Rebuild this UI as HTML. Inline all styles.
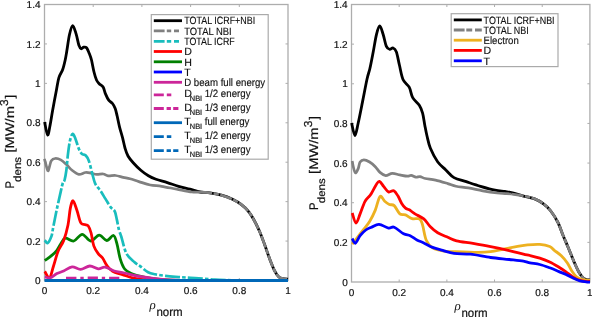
<!DOCTYPE html>
<html><head><meta charset="utf-8"><style>
html,body{margin:0;padding:0;background:#fff;}
svg{display:block;filter:blur(0.3px);}
text{text-rendering:geometricPrecision;font-family:"Liberation Sans",sans-serif;fill:#111;stroke:#111;stroke-width:0.2px;}
</style></head><body>
<svg width="592" height="317" viewBox="0 0 592 317">
<rect x="0" y="0" width="592" height="317" fill="#fff"/>
<rect x="44.50" y="4.50" width="243.50" height="276.00" fill="none" stroke="#ADADAD" stroke-width="1.3"/>
<path d="M93.20 280.50 V278.00 M93.20 4.50 V7.00" stroke="#ADADAD" stroke-width="1"/>
<path d="M141.90 280.50 V278.00 M141.90 4.50 V7.00" stroke="#ADADAD" stroke-width="1"/>
<path d="M190.60 280.50 V278.00 M190.60 4.50 V7.00" stroke="#ADADAD" stroke-width="1"/>
<path d="M239.30 280.50 V278.00 M239.30 4.50 V7.00" stroke="#ADADAD" stroke-width="1"/>
<path d="M44.50 241.07 H47.00 M288.00 241.07 H285.50" stroke="#ADADAD" stroke-width="1"/>
<path d="M44.50 201.64 H47.00 M288.00 201.64 H285.50" stroke="#ADADAD" stroke-width="1"/>
<path d="M44.50 162.21 H47.00 M288.00 162.21 H285.50" stroke="#ADADAD" stroke-width="1"/>
<path d="M44.50 122.79 H47.00 M288.00 122.79 H285.50" stroke="#ADADAD" stroke-width="1"/>
<path d="M44.50 83.36 H47.00 M288.00 83.36 H285.50" stroke="#ADADAD" stroke-width="1"/>
<path d="M44.50 43.93 H47.00 M288.00 43.93 H285.50" stroke="#ADADAD" stroke-width="1"/>
<rect x="351.50" y="4.50" width="238.40" height="277.50" fill="none" stroke="#ADADAD" stroke-width="1.3"/>
<path d="M399.18 282.00 V279.50 M399.18 4.50 V7.00" stroke="#ADADAD" stroke-width="1"/>
<path d="M446.86 282.00 V279.50 M446.86 4.50 V7.00" stroke="#ADADAD" stroke-width="1"/>
<path d="M494.54 282.00 V279.50 M494.54 4.50 V7.00" stroke="#ADADAD" stroke-width="1"/>
<path d="M542.22 282.00 V279.50 M542.22 4.50 V7.00" stroke="#ADADAD" stroke-width="1"/>
<path d="M351.50 242.36 H354.00 M589.90 242.36 H587.40" stroke="#ADADAD" stroke-width="1"/>
<path d="M351.50 202.71 H354.00 M589.90 202.71 H587.40" stroke="#ADADAD" stroke-width="1"/>
<path d="M351.50 163.07 H354.00 M589.90 163.07 H587.40" stroke="#ADADAD" stroke-width="1"/>
<path d="M351.50 123.43 H354.00 M589.90 123.43 H587.40" stroke="#ADADAD" stroke-width="1"/>
<path d="M351.50 83.79 H354.00 M589.90 83.79 H587.40" stroke="#ADADAD" stroke-width="1"/>
<path d="M351.50 44.14 H354.00 M589.90 44.14 H587.40" stroke="#ADADAD" stroke-width="1"/>
<text x="40.50" y="284.10" font-size="10" text-anchor="end">0</text>
<text x="40.50" y="244.67" font-size="10" text-anchor="end">0.2</text>
<text x="40.50" y="205.24" font-size="10" text-anchor="end">0.4</text>
<text x="40.50" y="165.81" font-size="10" text-anchor="end">0.6</text>
<text x="40.50" y="126.39" font-size="10" text-anchor="end">0.8</text>
<text x="40.50" y="86.96" font-size="10" text-anchor="end">1</text>
<text x="40.50" y="47.53" font-size="10" text-anchor="end">1.2</text>
<text x="40.50" y="8.10" font-size="10" text-anchor="end">1.4</text>
<text x="44.50" y="294.00" font-size="10" text-anchor="middle">0</text>
<text x="93.20" y="294.00" font-size="10" text-anchor="middle">0.2</text>
<text x="141.90" y="294.00" font-size="10" text-anchor="middle">0.4</text>
<text x="190.60" y="294.00" font-size="10" text-anchor="middle">0.6</text>
<text x="239.30" y="294.00" font-size="10" text-anchor="middle">0.8</text>
<text x="288.00" y="294.00" font-size="10" text-anchor="middle">1</text>
<text x="347.70" y="285.60" font-size="10" text-anchor="end">0</text>
<text x="347.70" y="245.96" font-size="10" text-anchor="end">0.2</text>
<text x="347.70" y="206.31" font-size="10" text-anchor="end">0.4</text>
<text x="347.70" y="166.67" font-size="10" text-anchor="end">0.6</text>
<text x="347.70" y="127.03" font-size="10" text-anchor="end">0.8</text>
<text x="347.70" y="87.39" font-size="10" text-anchor="end">1</text>
<text x="347.70" y="47.74" font-size="10" text-anchor="end">1.2</text>
<text x="347.70" y="8.10" font-size="10" text-anchor="end">1.4</text>
<text x="351.50" y="295.60" font-size="10" text-anchor="middle">0</text>
<text x="399.18" y="295.60" font-size="10" text-anchor="middle">0.2</text>
<text x="446.86" y="295.60" font-size="10" text-anchor="middle">0.4</text>
<text x="494.54" y="295.60" font-size="10" text-anchor="middle">0.6</text>
<text x="542.22" y="295.60" font-size="10" text-anchor="middle">0.8</text>
<text x="589.90" y="295.60" font-size="10" text-anchor="middle">1</text>
<text transform="translate(14.20 188.60) rotate(-90)" font-size="12.5" textLength="7.60" lengthAdjust="spacingAndGlyphs">P</text>
<text transform="translate(20.80 181.90) rotate(-90)" font-size="10.5" textLength="25.00" lengthAdjust="spacingAndGlyphs">dens</text>
<text transform="translate(14.20 152.60) rotate(-90)" font-size="12.5" textLength="46.50" lengthAdjust="spacingAndGlyphs">[MW/m</text>
<text transform="translate(7.90 106.00) rotate(-90)" font-size="11.5" textLength="6.60" lengthAdjust="spacingAndGlyphs">3</text>
<text transform="translate(13.60 98.50) rotate(-90)" font-size="12.5" textLength="3.60" lengthAdjust="spacingAndGlyphs">]</text>
<text transform="translate(318.20 209.90) rotate(-90)" font-size="12.5" textLength="7.60" lengthAdjust="spacingAndGlyphs">P</text>
<text transform="translate(324.80 203.20) rotate(-90)" font-size="10.5" textLength="25.00" lengthAdjust="spacingAndGlyphs">dens</text>
<text transform="translate(318.20 173.90) rotate(-90)" font-size="12.5" textLength="46.50" lengthAdjust="spacingAndGlyphs">[MW/m</text>
<text transform="translate(311.90 127.30) rotate(-90)" font-size="11.5" textLength="6.60" lengthAdjust="spacingAndGlyphs">3</text>
<text transform="translate(317.60 119.80) rotate(-90)" font-size="12.5" textLength="3.60" lengthAdjust="spacingAndGlyphs">]</text>
<text x="149.40" y="308.50" style="font-family:'Liberation Serif',serif;font-style:italic;stroke:none" font-size="13">&#961;</text>
<text x="156.40" y="315.80" font-size="12" textLength="26.2" lengthAdjust="spacingAndGlyphs">norm</text>
<text x="454.40" y="310.00" style="font-family:'Liberation Serif',serif;font-style:italic;stroke:none" font-size="13">&#961;</text>
<text x="461.40" y="317.30" font-size="12" textLength="26.2" lengthAdjust="spacingAndGlyphs">norm</text>
<path d="M66.00 278.00 C70.33 277.97 83.12 277.80 92.00 277.80 C100.88 277.80 114.75 277.97 119.30 278.00" fill="none" stroke="#CC2699" stroke-width="2.4" stroke-linejoin="round" stroke-linecap="butt" stroke-dasharray="10.5 3.8 3.3 3.9"/>
<path d="M44.60 122.00 C45.10 124.17 46.68 134.48 47.60 135.00 C48.52 135.52 49.27 129.20 50.10 125.10 C50.93 121.00 51.55 116.22 52.60 110.40 C53.65 104.58 55.35 95.67 56.40 90.20 C57.45 84.73 57.85 81.05 58.90 77.60 C59.95 74.15 61.65 72.43 62.70 69.50 C63.75 66.57 64.52 63.08 65.20 60.00 C65.88 56.92 66.08 55.25 66.80 51.00 C67.52 46.75 68.52 38.73 69.50 34.50 C70.48 30.27 71.60 25.70 72.70 25.60 C73.80 25.50 75.07 30.62 76.10 33.90 C77.13 37.18 78.05 42.83 78.90 45.30 C79.75 47.77 80.40 48.38 81.20 48.70 C82.00 49.02 82.82 47.35 83.70 47.20 C84.58 47.05 85.57 46.75 86.50 47.80 C87.43 48.85 88.47 51.47 89.30 53.50 C90.13 55.53 90.72 56.92 91.50 60.00 C92.28 63.08 93.17 68.67 94.00 72.00 C94.83 75.33 95.63 78.05 96.50 80.00 C97.37 81.95 98.10 82.53 99.20 83.70 C100.30 84.87 102.05 85.30 103.10 87.00 C104.15 88.70 104.57 91.70 105.50 93.90 C106.43 96.10 107.53 98.60 108.70 100.20 C109.87 101.80 111.42 102.12 112.50 103.50 C113.58 104.88 114.43 106.45 115.20 108.50 C115.97 110.55 116.38 112.75 117.10 115.80 C117.82 118.85 118.58 123.12 119.50 126.80 C120.42 130.48 121.68 134.37 122.60 137.90 C123.52 141.43 124.10 144.98 125.00 148.00 C125.90 151.02 126.63 153.55 128.00 156.00 C129.37 158.45 131.07 160.32 133.20 162.70 C135.33 165.08 138.27 168.12 140.80 170.30 C143.33 172.48 145.87 174.30 148.40 175.80 C150.93 177.30 152.85 178.17 156.00 179.30 C159.15 180.43 163.53 181.43 167.30 182.60 C171.07 183.77 174.82 185.20 178.60 186.30 C182.38 187.40 186.43 188.25 190.00 189.20 C193.57 190.15 196.97 191.43 200.00 192.00 C203.03 192.57 204.62 192.07 208.20 192.60 C211.78 193.13 217.45 194.08 221.50 195.20 C225.55 196.32 229.18 197.73 232.50 199.30 C235.82 200.87 238.82 202.68 241.40 204.60 C243.98 206.52 246.02 208.43 248.00 210.80 C249.98 213.17 251.38 215.40 253.30 218.80 C255.22 222.20 257.62 226.90 259.50 231.20 C261.38 235.50 262.90 239.98 264.60 244.60 C266.30 249.22 268.00 254.47 269.70 258.90 C271.40 263.33 273.27 268.18 274.80 271.20 C276.33 274.22 277.53 275.77 278.90 277.00 C280.27 278.23 281.48 278.23 283.00 278.60 C284.52 278.97 287.17 279.10 288.00 279.20" fill="none" stroke="#000000" stroke-width="2.8" stroke-linejoin="round" stroke-linecap="butt"/>
<path d="M44.40 158.90 C44.62 159.68 45.12 161.62 45.70 163.60 C46.28 165.58 47.27 170.32 47.90 170.80 C48.53 171.28 48.93 168.17 49.50 166.50 C50.07 164.83 50.37 162.13 51.30 160.80 C52.23 159.47 53.52 158.65 55.10 158.50 C56.68 158.35 58.90 158.88 60.80 159.90 C62.70 160.92 64.62 162.87 66.50 164.60 C68.38 166.33 70.05 168.67 72.10 170.30 C74.15 171.93 76.58 174.03 78.80 174.40 C81.02 174.77 83.37 172.72 85.40 172.50 C87.43 172.28 89.12 172.78 91.00 173.10 C92.88 173.42 94.65 174.25 96.70 174.40 C98.75 174.55 101.40 173.75 103.30 174.00 C105.20 174.25 106.05 175.65 108.10 175.90 C110.15 176.15 113.08 175.25 115.60 175.50 C118.12 175.75 120.80 176.85 123.20 177.40 C125.60 177.95 127.38 178.10 130.00 178.80 C132.62 179.50 135.52 180.57 138.90 181.60 C142.28 182.63 146.52 184.22 150.30 185.00 C154.08 185.78 157.20 185.60 161.60 186.30 C166.00 187.00 171.65 188.25 176.70 189.20 C181.75 190.15 188.02 191.53 191.90 192.00 C195.78 192.47 198.65 192.00 200.00 192.00" fill="none" stroke="#808080" stroke-width="2.7" stroke-linejoin="round" stroke-linecap="butt"/>
<path d="M200.00 192.00 C201.37 192.10 204.62 192.07 208.20 192.60 C211.78 193.13 217.45 194.08 221.50 195.20 C225.55 196.32 229.18 197.73 232.50 199.30 C235.82 200.87 238.82 202.68 241.40 204.60 C243.98 206.52 246.02 208.43 248.00 210.80 C249.98 213.17 251.38 215.40 253.30 218.80 C255.22 222.20 257.62 226.90 259.50 231.20 C261.38 235.50 262.90 239.98 264.60 244.60 C266.30 249.22 268.00 254.47 269.70 258.90 C271.40 263.33 273.27 268.18 274.80 271.20 C276.33 274.22 277.53 275.77 278.90 277.00 C280.27 278.23 281.48 278.23 283.00 278.60 C284.52 278.97 287.17 279.10 288.00 279.20" fill="none" stroke="#808080" stroke-width="2.7" stroke-linejoin="round" stroke-linecap="butt" stroke-dasharray="12.3 1.5 5.1 1.5"/>
<path d="M44.70 240.20 C45.18 240.67 46.48 243.63 47.60 243.00 C48.72 242.37 50.47 239.02 51.40 236.40 C52.33 233.78 52.27 231.97 53.20 227.30 C54.13 222.63 55.73 214.38 57.00 208.40 C58.27 202.42 59.85 195.55 60.80 191.40 C61.75 187.25 62.07 185.40 62.70 183.50 C63.33 181.60 63.98 182.25 64.60 180.00 C65.22 177.75 65.85 174.22 66.40 170.00 C66.95 165.78 67.30 159.62 67.90 154.70 C68.50 149.78 69.20 143.97 70.00 140.50 C70.80 137.03 71.78 134.17 72.70 133.90 C73.62 133.63 74.50 136.48 75.50 138.90 C76.50 141.32 77.65 145.90 78.70 148.40 C79.75 150.90 80.62 152.72 81.80 153.90 C82.98 155.08 84.62 154.32 85.80 155.50 C86.98 156.68 87.83 158.03 88.90 161.00 C89.97 163.97 91.15 169.53 92.20 173.30 C93.25 177.07 93.83 180.70 95.20 183.60 C96.57 186.50 98.68 188.15 100.40 190.70 C102.12 193.25 103.80 196.17 105.50 198.90 C107.20 201.63 109.07 205.05 110.60 207.10 C112.13 209.15 113.67 209.15 114.70 211.20 C115.73 213.25 116.08 216.27 116.80 219.40 C117.52 222.53 118.23 227.07 119.00 230.00 C119.77 232.93 120.15 233.05 121.40 237.00 C122.65 240.95 124.30 249.50 126.50 253.70 C128.70 257.90 132.35 260.13 134.60 262.20 C136.85 264.27 137.75 264.43 140.00 266.10 C142.25 267.77 145.57 270.83 148.10 272.20 C150.63 273.57 152.33 273.70 155.20 274.30 C158.07 274.90 161.92 275.38 165.30 275.80 C168.68 276.22 172.12 276.52 175.50 276.80 C178.88 277.08 181.72 277.25 185.60 277.50 C189.48 277.75 193.90 277.95 198.80 278.30 C203.70 278.65 208.97 279.23 215.00 279.60 C221.03 279.97 231.67 280.35 235.00 280.50" fill="none" stroke="#19BDBD" stroke-width="2.7" stroke-linejoin="round" stroke-linecap="butt" stroke-dasharray="15 2.2 3.5 2.2" stroke-dashoffset="0"/>
<path d="M44.80 260.50 C45.97 259.65 49.78 257.10 51.80 255.40 C53.82 253.70 55.40 252.22 56.90 250.30 C58.40 248.38 59.40 245.92 60.80 243.90 C62.20 241.88 63.13 238.68 65.30 238.20 C67.47 237.72 70.98 241.65 73.80 241.00 C76.62 240.35 79.38 234.30 82.20 234.30 C85.02 234.30 87.88 240.87 90.70 241.00 C93.52 241.13 96.43 235.18 99.10 235.10 C101.77 235.02 104.30 240.43 106.70 240.50 C109.10 240.57 111.80 234.98 113.50 235.50 C115.20 236.02 115.77 239.67 116.90 243.60 C118.03 247.53 119.00 254.87 120.30 259.10 C121.60 263.33 122.87 266.60 124.70 269.00 C126.53 271.40 127.92 272.12 131.30 273.50 C134.68 274.88 140.22 276.33 145.00 277.30 C149.78 278.27 154.17 278.77 160.00 279.30 C165.83 279.83 176.67 280.30 180.00 280.50" fill="none" stroke="#008000" stroke-width="2.8" stroke-linejoin="round" stroke-linecap="butt"/>
<path d="M44.80 271.40 C45.58 272.50 48.08 278.78 49.50 278.00 C50.92 277.22 51.88 271.12 53.30 266.70 C54.72 262.28 56.27 255.87 58.00 251.50 C59.73 247.13 62.03 244.92 63.70 240.50 C65.37 236.08 66.90 230.35 68.00 225.00 C69.10 219.65 69.45 212.43 70.30 208.40 C71.15 204.37 72.00 200.48 73.10 200.80 C74.20 201.12 75.63 206.67 76.90 210.30 C78.17 213.93 79.43 220.23 80.70 222.60 C81.97 224.97 83.23 223.93 84.50 224.50 C85.77 225.07 87.20 224.58 88.30 226.00 C89.40 227.42 90.18 229.68 91.10 233.00 C92.02 236.32 92.62 242.47 93.80 245.90 C94.98 249.33 96.73 251.58 98.20 253.60 C99.67 255.62 101.13 255.98 102.60 258.00 C104.07 260.02 105.33 263.48 107.00 265.70 C108.67 267.92 110.02 269.82 112.60 271.30 C115.18 272.78 119.02 273.45 122.50 274.60 C125.98 275.75 129.75 277.30 133.50 278.20 C137.25 279.10 140.58 279.62 145.00 280.00 C149.42 280.38 157.50 280.42 160.00 280.50" fill="none" stroke="#FF0000" stroke-width="2.8" stroke-linejoin="round" stroke-linecap="butt"/>
<path d="M44.80 277.00 C45.68 277.13 48.08 278.37 50.10 277.80 C52.12 277.23 54.65 274.73 56.90 273.60 C59.15 272.47 61.07 272.13 63.60 271.00 C66.13 269.87 69.28 267.07 72.10 266.80 C74.92 266.53 77.55 269.53 80.50 269.40 C83.45 269.27 86.83 266.08 89.80 266.00 C92.77 265.92 95.77 268.70 98.30 268.90 C100.83 269.10 102.33 266.85 105.00 267.20 C107.67 267.55 111.05 270.03 114.30 271.00 C117.55 271.97 120.22 272.08 124.50 273.00 C128.78 273.92 134.92 275.57 140.00 276.50 C145.08 277.43 150.00 278.05 155.00 278.60 C160.00 279.15 164.17 279.48 170.00 279.80 C175.83 280.12 186.67 280.38 190.00 280.50" fill="none" stroke="#CC2699" stroke-width="2.8" stroke-linejoin="round" stroke-linecap="butt"/>
<path d="M44.50 280.50 L288.00 280.50" fill="none" stroke="#0068B8" stroke-width="3.0" stroke-linejoin="round" stroke-linecap="butt"/>
<path d="M351.60 123.00 C352.15 125.08 353.80 135.50 354.90 135.50 C356.00 135.50 356.90 128.77 358.20 123.00 C359.50 117.23 361.22 108.27 362.70 100.90 C364.18 93.53 365.90 84.20 367.10 78.80 C368.30 73.40 368.88 72.97 369.90 68.50 C370.92 64.03 372.10 57.70 373.20 52.00 C374.30 46.30 375.40 38.63 376.50 34.30 C377.60 29.97 378.70 26.00 379.80 26.00 C380.90 26.00 382.00 30.90 383.10 34.30 C384.20 37.70 385.30 43.90 386.40 46.40 C387.50 48.90 388.58 49.03 389.70 49.30 C390.82 49.57 391.98 47.55 393.10 48.00 C394.22 48.45 395.35 49.17 396.40 52.00 C397.45 54.83 398.30 60.42 399.40 65.00 C400.50 69.58 401.37 75.80 403.00 79.50 C404.63 83.20 407.58 84.18 409.20 87.20 C410.82 90.22 411.02 94.58 412.70 97.60 C414.38 100.62 417.65 102.72 419.30 105.30 C420.95 107.88 421.68 109.78 422.60 113.10 C423.52 116.42 424.07 121.38 424.80 125.20 C425.53 129.02 426.07 132.15 427.00 136.00 C427.93 139.85 428.63 144.02 430.40 148.30 C432.17 152.58 435.03 158.10 437.60 161.70 C440.17 165.30 443.07 167.25 445.80 169.90 C448.53 172.55 450.58 175.63 454.00 177.60 C457.42 179.57 461.87 180.25 466.30 181.70 C470.73 183.15 475.82 184.88 480.60 186.30 C485.38 187.72 490.93 189.35 495.00 190.20 C499.07 191.05 502.27 191.00 505.00 191.40 C507.73 191.80 508.45 191.87 511.40 192.60 C514.35 193.33 518.92 194.80 522.70 195.80 C526.48 196.80 530.63 197.27 534.10 198.60 C537.57 199.93 540.78 201.82 543.50 203.80 C546.22 205.78 548.03 207.47 550.40 210.50 C552.77 213.53 555.55 217.75 557.70 222.00 C559.85 226.25 561.50 231.63 563.30 236.00 C565.10 240.37 566.75 244.00 568.50 248.20 C570.25 252.40 572.08 257.23 573.80 261.20 C575.52 265.17 577.18 269.17 578.80 272.00 C580.42 274.83 582.13 276.93 583.50 278.20 C584.87 279.47 585.92 279.33 587.00 279.60 C588.08 279.87 589.50 279.77 590.00 279.80" fill="none" stroke="#000000" stroke-width="2.8" stroke-linejoin="round" stroke-linecap="butt"/>
<path d="M352.20 161.10 C352.42 162.20 352.97 165.72 353.50 167.70 C354.03 169.68 354.62 172.85 355.40 173.00 C356.18 173.15 357.42 170.43 358.20 168.60 C358.98 166.77 359.15 163.47 360.10 162.00 C361.05 160.53 362.32 159.80 363.90 159.80 C365.48 159.80 367.70 160.85 369.60 162.00 C371.50 163.15 373.57 164.97 375.30 166.70 C377.03 168.43 378.27 170.92 380.00 172.40 C381.73 173.88 383.65 175.43 385.70 175.60 C387.75 175.77 389.95 173.52 392.30 173.40 C394.65 173.28 397.28 174.43 399.80 174.90 C402.32 175.37 405.50 176.13 407.40 176.20 C409.30 176.27 409.78 175.13 411.20 175.30 C412.62 175.47 414.42 176.98 415.90 177.20 C417.38 177.42 418.53 176.38 420.10 176.60 C421.67 176.82 422.73 177.92 425.30 178.50 C427.87 179.08 431.75 179.25 435.50 180.10 C439.25 180.95 444.38 182.57 447.80 183.60 C451.22 184.63 452.58 185.58 456.00 186.30 C459.42 187.02 463.85 187.15 468.30 187.90 C472.75 188.65 477.92 189.95 482.70 190.80 C487.48 191.65 493.28 192.53 497.00 193.00 C500.72 193.47 502.60 193.43 505.00 193.60 C507.40 193.77 510.33 193.93 511.40 194.00" fill="none" stroke="#808080" stroke-width="2.7" stroke-linejoin="round" stroke-linecap="butt"/>
<path d="M511.40 194.00 C513.28 194.30 518.92 195.03 522.70 195.80 C526.48 196.57 530.63 197.27 534.10 198.60 C537.57 199.93 540.78 201.82 543.50 203.80 C546.22 205.78 548.03 207.47 550.40 210.50 C552.77 213.53 555.55 217.75 557.70 222.00 C559.85 226.25 561.50 231.63 563.30 236.00 C565.10 240.37 566.75 244.00 568.50 248.20 C570.25 252.40 572.08 257.23 573.80 261.20 C575.52 265.17 577.18 269.17 578.80 272.00 C580.42 274.83 582.13 276.93 583.50 278.20 C584.87 279.47 585.92 279.33 587.00 279.60 C588.08 279.87 589.50 279.77 590.00 279.80" fill="none" stroke="#808080" stroke-width="2.7" stroke-linejoin="round" stroke-linecap="butt" stroke-dasharray="12.3 1.5 5.1 1.5"/>
<path d="M352.20 244.20 C353.05 243.10 355.35 240.13 357.30 237.60 C359.25 235.07 361.85 231.68 363.90 229.00 C365.95 226.32 367.70 224.65 369.60 221.50 C371.50 218.35 373.57 214.27 375.30 210.10 C377.03 205.93 378.43 197.98 380.00 196.50 C381.57 195.02 383.13 199.87 384.70 201.20 C386.27 202.53 387.82 203.77 389.40 204.50 C390.98 205.23 392.47 204.03 394.20 205.60 C395.93 207.17 397.92 212.35 399.80 213.90 C401.68 215.45 403.45 214.12 405.50 214.90 C407.55 215.68 409.73 217.92 412.10 218.60 C414.47 219.28 417.95 217.90 419.70 219.00 C421.45 220.10 421.50 221.65 422.60 225.20 C423.70 228.75 424.63 236.52 426.30 240.30 C427.97 244.08 429.87 246.13 432.60 247.90 C435.33 249.67 438.92 250.27 442.70 250.90 C446.48 251.53 449.42 251.45 455.30 251.70 C461.18 251.95 472.12 252.40 478.00 252.40 C483.88 252.40 486.35 252.25 490.60 251.70 C494.85 251.15 499.22 249.93 503.50 249.10 C507.78 248.27 512.28 247.40 516.30 246.70 C520.32 246.00 523.68 245.28 527.60 244.90 C531.52 244.52 536.12 244.13 539.80 244.40 C543.48 244.67 547.28 245.52 549.70 246.50 C552.12 247.48 552.37 248.75 554.30 250.30 C556.23 251.85 559.15 253.72 561.30 255.80 C563.45 257.88 565.45 260.27 567.20 262.80 C568.95 265.33 570.25 268.67 571.80 271.00 C573.35 273.33 574.75 275.35 576.50 276.80 C578.25 278.25 580.05 279.10 582.30 279.70 C584.55 280.30 588.72 280.28 590.00 280.40" fill="none" stroke="#EDB120" stroke-width="2.8" stroke-linejoin="round" stroke-linecap="butt"/>
<path d="M352.20 213.00 C352.83 214.67 354.68 222.85 356.00 223.00 C357.32 223.15 358.62 217.47 360.10 213.90 C361.58 210.33 363.32 204.60 364.90 201.60 C366.48 198.60 368.50 197.30 369.60 195.90 C370.70 194.50 370.40 195.07 371.50 193.20 C372.60 191.33 374.88 186.68 376.20 184.70 C377.52 182.72 378.13 180.98 379.40 181.30 C380.67 181.62 382.28 184.83 383.80 186.60 C385.32 188.37 386.83 191.20 388.50 191.90 C390.17 192.60 392.22 190.10 393.80 190.80 C395.38 191.50 396.68 193.98 398.00 196.10 C399.32 198.22 400.45 201.48 401.70 203.50 C402.95 205.52 404.23 207.15 405.50 208.20 C406.77 209.25 407.72 208.85 409.30 209.80 C410.88 210.75 412.58 212.38 415.00 213.90 C417.42 215.42 421.28 216.80 423.80 218.90 C426.32 221.00 427.78 224.18 430.10 226.50 C432.42 228.82 434.75 231.00 437.70 232.80 C440.65 234.60 444.65 235.97 447.80 237.30 C450.95 238.63 452.40 239.78 456.60 240.80 C460.80 241.82 467.33 242.43 473.00 243.40 C478.67 244.37 484.57 245.40 490.60 246.60 C496.63 247.80 503.73 249.35 509.20 250.60 C514.67 251.85 519.93 253.28 523.40 254.10 C526.87 254.92 527.27 254.82 530.00 255.50 C532.73 256.18 536.52 257.12 539.80 258.20 C543.08 259.28 546.50 260.50 549.70 262.00 C552.90 263.50 556.28 265.57 559.00 267.20 C561.72 268.83 563.87 270.30 566.00 271.80 C568.13 273.30 569.80 274.87 571.80 276.20 C573.80 277.53 575.80 278.93 578.00 279.80 C580.20 280.67 583.00 281.12 585.00 281.40 C587.00 281.68 589.17 281.48 590.00 281.50" fill="none" stroke="#FF0000" stroke-width="2.8" stroke-linejoin="round" stroke-linecap="butt"/>
<path d="M352.20 238.50 C352.73 239.28 354.08 243.67 355.40 243.20 C356.72 242.73 358.37 237.90 360.10 235.70 C361.83 233.50 363.90 231.42 365.80 230.00 C367.70 228.58 369.30 228.15 371.50 227.20 C373.70 226.25 376.17 224.15 379.00 224.30 C381.83 224.45 385.97 227.62 388.50 228.10 C391.03 228.58 391.68 226.25 394.20 227.20 C396.72 228.15 400.93 232.38 403.60 233.80 C406.27 235.22 407.98 234.67 410.20 235.70 C412.42 236.73 414.63 238.80 416.90 240.00 C419.17 241.20 421.18 241.67 423.80 242.90 C426.42 244.13 429.45 246.15 432.60 247.40 C435.75 248.65 439.12 249.40 442.70 250.40 C446.28 251.40 449.47 252.77 454.10 253.40 C458.73 254.03 464.42 253.52 470.50 254.20 C476.58 254.88 484.15 256.62 490.60 257.50 C497.05 258.38 503.73 258.88 509.20 259.50 C514.67 260.12 519.93 260.63 523.40 261.20 C526.87 261.77 527.27 262.35 530.00 262.90 C532.73 263.45 536.52 263.68 539.80 264.50 C543.08 265.32 546.50 266.62 549.70 267.80 C552.90 268.98 556.28 270.48 559.00 271.60 C561.72 272.72 563.67 273.43 566.00 274.50 C568.33 275.57 570.67 276.93 573.00 278.00 C575.33 279.07 577.67 280.23 580.00 280.90 C582.33 281.57 585.33 281.82 587.00 282.00 C588.67 282.18 589.50 282.00 590.00 282.00" fill="none" stroke="#0000FF" stroke-width="2.8" stroke-linejoin="round" stroke-linecap="butt"/>
<rect x="151.30" y="14.60" width="116.90" height="144.60" fill="#fff" stroke="#AAAAAA" stroke-width="1.2"/>
<path d="M153.80 20.70 H182.00" stroke="#000000" stroke-width="2.8"/>
<text x="184.20" y="24.40" font-size="10.6" style="stroke-width:0.15px" textLength="71.00" lengthAdjust="spacingAndGlyphs">TOTAL ICRF+NBI</text>
<path d="M153.80 30.90 H182.00" stroke="#808080" stroke-width="2.8" stroke-dasharray="10.8 2.2 4.4 2.8 5 100"/>
<text x="184.20" y="34.60" font-size="10.6" style="stroke-width:0.15px" textLength="47.50" lengthAdjust="spacingAndGlyphs">TOTAL NBI</text>
<path d="M153.80 41.30 H182.00" stroke="#19BDBD" stroke-width="2.8" stroke-dasharray="10.8 2.2 4.4 2.8 5 100"/>
<text x="184.20" y="45.00" font-size="10.6" style="stroke-width:0.15px" textLength="50.50" lengthAdjust="spacingAndGlyphs">TOTAL ICRF</text>
<path d="M153.80 51.50 H182.00" stroke="#FF0000" stroke-width="2.8"/>
<text x="184.20" y="55.20" font-size="10.6" style="stroke-width:0.15px">D</text>
<path d="M153.80 61.80 H182.00" stroke="#008000" stroke-width="2.8"/>
<text x="184.20" y="65.50" font-size="10.6" style="stroke-width:0.15px">H</text>
<path d="M153.80 72.00 H182.00" stroke="#0000FF" stroke-width="2.8"/>
<text x="184.20" y="75.70" font-size="10.6" style="stroke-width:0.15px">T</text>
<path d="M153.80 82.30 H182.00" stroke="#CC2699" stroke-width="2.8"/>
<text x="184.20" y="86.00" font-size="10.6" style="stroke-width:0.15px" textLength="81.00" lengthAdjust="spacingAndGlyphs">D beam full energy</text>
<path d="M153.80 94.90 H182.00" stroke="#CC2699" stroke-width="2.8" stroke-dasharray="10 3 4.5 100"/>
<text x="184.20" y="96.90" font-size="10.6" style="stroke-width:0.15px">D</text>
<text x="189.80" y="101.00" font-size="7.6" textLength="12.4" lengthAdjust="spacingAndGlyphs">NBI</text>
<text x="204.70" y="96.90" font-size="10.6" style="stroke-width:0.15px" textLength="45.80" lengthAdjust="spacingAndGlyphs">1/2 energy</text>
<path d="M153.80 108.50 H182.00" stroke="#CC2699" stroke-width="2.8" stroke-dasharray="10 2.8 4.3 2.3 5.2 100"/>
<text x="184.20" y="110.50" font-size="10.6" style="stroke-width:0.15px">D</text>
<text x="189.80" y="114.60" font-size="7.6" textLength="12.4" lengthAdjust="spacingAndGlyphs">NBI</text>
<text x="204.70" y="110.50" font-size="10.6" style="stroke-width:0.15px" textLength="45.80" lengthAdjust="spacingAndGlyphs">1/3 energy</text>
<path d="M153.80 122.70 H182.00" stroke="#0068B8" stroke-width="2.8"/>
<text x="184.20" y="124.70" font-size="10.6" style="stroke-width:0.15px">T</text>
<text x="189.80" y="128.80" font-size="7.6" textLength="12.4" lengthAdjust="spacingAndGlyphs">NBI</text>
<text x="204.70" y="124.70" font-size="10.6" style="stroke-width:0.15px" textLength="44.80" lengthAdjust="spacingAndGlyphs">full energy</text>
<path d="M153.80 136.70 H182.00" stroke="#0068B8" stroke-width="2.8" stroke-dasharray="10 3 4.5 100"/>
<text x="184.20" y="138.70" font-size="10.6" style="stroke-width:0.15px">T</text>
<text x="189.80" y="142.80" font-size="7.6" textLength="12.4" lengthAdjust="spacingAndGlyphs">NBI</text>
<text x="204.70" y="138.70" font-size="10.6" style="stroke-width:0.15px" textLength="45.80" lengthAdjust="spacingAndGlyphs">1/2 energy</text>
<path d="M153.80 150.70 H182.00" stroke="#0068B8" stroke-width="2.8" stroke-dasharray="10 2.8 4.3 2.3 5.2 100"/>
<text x="184.20" y="152.70" font-size="10.6" style="stroke-width:0.15px">T</text>
<text x="189.80" y="156.80" font-size="7.6" textLength="12.4" lengthAdjust="spacingAndGlyphs">NBI</text>
<text x="204.70" y="152.70" font-size="10.6" style="stroke-width:0.15px" textLength="45.80" lengthAdjust="spacingAndGlyphs">1/3 energy</text>
<rect x="451.20" y="13.70" width="106.80" height="52.90" fill="#fff" stroke="#AAAAAA" stroke-width="1.2"/>
<path d="M453.80 19.90 H481.80" stroke="#000000" stroke-width="2.8"/>
<text x="483.60" y="23.70" font-size="10.6" style="stroke-width:0.15px" textLength="71.00" lengthAdjust="spacingAndGlyphs">TOTAL ICRF+NBI</text>
<path d="M453.80 30.00 H481.80" stroke="#808080" stroke-width="2.8" stroke-dasharray="10.8 1.7 5.9 2.8 7 100"/>
<text x="483.60" y="33.80" font-size="10.6" style="stroke-width:0.15px" textLength="45.20" lengthAdjust="spacingAndGlyphs">TOTAL NBI</text>
<path d="M453.80 40.20 H481.80" stroke="#EDB120" stroke-width="2.8"/>
<text x="483.60" y="44.00" font-size="10.6" style="stroke-width:0.15px" textLength="35.20" lengthAdjust="spacingAndGlyphs">Electron</text>
<path d="M453.80 50.40 H481.80" stroke="#FF0000" stroke-width="2.8"/>
<text x="483.60" y="54.20" font-size="10.6" style="stroke-width:0.15px">D</text>
<path d="M453.80 60.80 H481.80" stroke="#0000FF" stroke-width="2.8"/>
<text x="483.60" y="64.60" font-size="10.6" style="stroke-width:0.15px">T</text>
</svg></body></html>
